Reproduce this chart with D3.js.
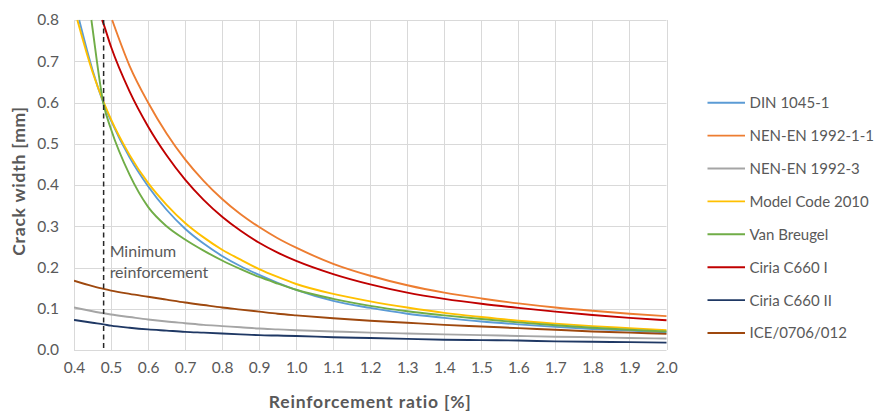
<!DOCTYPE html>
<html>
<head>
<meta charset="utf-8">
<script src="https://cdn.jsdelivr.net/npm/d3@7/dist/d3.min.js"></script>
<style>
  html, body { margin: 0; padding: 0; background: #fff; }
  svg { display: block; font-family: Lato, "Open Sans", sans-serif; }
</style>
</head>
<body>
<svg id="chart" width="877" height="413"></svg>
<script>
// Reinforcement ratio sample points [%]
const ratios = [0.4, 0.45, 0.48, 0.5, 0.55, 0.6, 0.65, 0.7, 0.75, 0.8, 0.85, 0.9, 0.95, 1.0, 1.1, 1.2, 1.3, 1.4, 1.5, 1.6, 1.7, 1.8, 1.9, 2.0];

// Crack width [mm] per code; null = above the plotted range
const din1045 =     [null, 0.679, 0.598, 0.556, 0.467, 0.397, 0.340, 0.294, 0.258, 0.228, 0.203, 0.182, 0.163, 0.146, 0.119, 0.102, 0.088, 0.078, 0.069, 0.062, 0.056, 0.051, 0.047, 0.043];
const nen1992_1_1 = [null, null, null, null, 0.689, 0.600, 0.525, 0.462, 0.410, 0.366, 0.329, 0.298, 0.271, 0.248, 0.209, 0.180, 0.157, 0.139, 0.125, 0.113, 0.103, 0.095, 0.088, 0.082];
const nen1992_3 =   [0.103, 0.094, 0.089, 0.086, 0.080, 0.074, 0.069, 0.065, 0.061, 0.058, 0.055, 0.052, 0.050, 0.048, 0.045, 0.042, 0.040, 0.038, 0.036, 0.034, 0.032, 0.031, 0.029, 0.028];
const modelCode =   [null, 0.674, 0.601, 0.559, 0.473, 0.405, 0.352, 0.308, 0.273, 0.243, 0.219, 0.196, 0.177, 0.160, 0.136, 0.118, 0.103, 0.090, 0.080, 0.071, 0.064, 0.058, 0.053, 0.048];
const vanBreugel =  [null, 0.780, 0.595, 0.535, 0.425, 0.347, 0.300, 0.268, 0.241, 0.217, 0.196, 0.177, 0.161, 0.146, 0.124, 0.107, 0.094, 0.084, 0.075, 0.067, 0.060, 0.054, 0.049, 0.045];
const ciriaI =      [null, null, 0.790, 0.735, 0.627, 0.542, 0.472, 0.413, 0.364, 0.323, 0.289, 0.260, 0.236, 0.216, 0.184, 0.159, 0.139, 0.124, 0.112, 0.102, 0.093, 0.085, 0.078, 0.072];
const ciriaII =     [0.073, 0.066, 0.062, 0.059, 0.054, 0.050, 0.047, 0.044, 0.042, 0.040, 0.038, 0.036, 0.035, 0.034, 0.031, 0.029, 0.027, 0.025, 0.024, 0.023, 0.021, 0.020, 0.019, 0.018];
const ice0706 =     [0.168, 0.155, 0.148, 0.144, 0.136, 0.129, 0.122, 0.115, 0.109, 0.103, 0.098, 0.093, 0.088, 0.084, 0.077, 0.071, 0.066, 0.061, 0.057, 0.053, 0.049, 0.045, 0.042, 0.039];

// Ratio at which a curve enters from the top of the range (crack width 0.8 mm)
const topEntry = [0.414, 0.503, null, 0.409, 0.447, 0.476, null, null];

const seriesNames = ["DIN 1045-1", "NEN-EN 1992-1-1", "NEN-EN 1992-3", "Model Code 2010", "Van Breugel", "Ciria C660 I", "Ciria C660 II", "ICE/0706/012"];
const seriesValues = [din1045, nen1992_1_1, nen1992_3, modelCode, vanBreugel, ciriaI, ciriaII, ice0706];
const seriesColors = ["#5B9BD5", "#ED7D31", "#A5A5A5", "#FFC000", "#70AD47", "#C00000", "#1F3864", "#9E480E"];

const xTicks = [0.4, 0.5, 0.6, 0.7, 0.8, 0.9, 1.0, 1.1, 1.2, 1.3, 1.4, 1.5, 1.6, 1.7, 1.8, 1.9, 2.0];
const yTicks = [0.0, 0.1, 0.2, 0.3, 0.4, 0.5, 0.6, 0.7, 0.8];
const minReinforcement = 0.48;
const yMax = 0.8;

const svg = d3.select("#chart");
const plot = { left: 74, right: 666.5, top: 20, bottom: 350 };
const x = d3.scaleLinear().domain([0.4, 2.0]).range([plot.left, plot.right]);
const y = d3.scaleLinear().domain([0, yMax]).range([plot.bottom, plot.top]);
const textColor = "#595959";
const fmt = d3.format(".1f");

// Gridlines
const grid = svg.append("g").attr("stroke", "#d9d9d9").attr("stroke-width", 1);
grid.selectAll("line.v").data(xTicks).join("line")
  .attr("x1", d => Math.round(x(d)) + 0.5).attr("x2", d => Math.round(x(d)) + 0.5)
  .attr("y1", plot.top).attr("y2", plot.bottom);
grid.selectAll("line.h").data(yTicks).join("line")
  .attr("y1", d => Math.round(y(d)) + 0.5).attr("y2", d => Math.round(y(d)) + 0.5)
  .attr("x1", plot.left).attr("x2", plot.right);

// Axes (labels only; gridlines carry the lines)
const xAxis = svg.append("g").attr("transform", `translate(0,${plot.bottom})`)
  .call(d3.axisBottom(x).tickValues(xTicks).tickFormat(fmt).tickSize(0).tickPadding(12));
const yAxis = svg.append("g").attr("transform", `translate(${plot.left},0)`)
  .call(d3.axisLeft(y).tickValues(yTicks).tickFormat(fmt).tickSize(0).tickPadding(15));
[xAxis, yAxis].forEach(a => {
  a.select(".domain").remove();
  a.selectAll("text").attr("fill", textColor).style("font-size", "15.5px").style("font-family", "Lato, sans-serif");
});

// Curves
const clipId = "plot-clip";
svg.append("clipPath").attr("id", clipId).append("rect")
  .attr("x", plot.left).attr("y", plot.top - 1)
  .attr("width", plot.right - plot.left + 2).attr("height", plot.bottom - plot.top + 2);

const line = d3.line().x(d => x(d[0])).y(d => y(d[1])).curve(d3.curveMonotoneX);
const curves = svg.append("g").attr("clip-path", `url(#${clipId})`);
seriesValues.forEach((vals, i) => {
  const pts = [];
  if (topEntry[i] !== null) pts.push([topEntry[i], yMax]);
  ratios.forEach((r, j) => {
    if (vals[j] !== null && (topEntry[i] === null || r > topEntry[i])) pts.push([r, vals[j]]);
  });
  curves.append("path").datum(pts)
    .attr("fill", "none").attr("stroke", seriesColors[i]).attr("stroke-width", 1.9)
    .attr("stroke-linejoin", "round").attr("d", line);
});

// Minimum reinforcement marker
svg.append("line")
  .attr("x1", x(minReinforcement)).attr("x2", x(minReinforcement))
  .attr("y1", plot.top).attr("y2", plot.bottom)
  .attr("stroke", "#262626").attr("stroke-width", 1.5).attr("stroke-dasharray", "5,3.5");
const note = svg.append("text").attr("fill", textColor).style("font-size", "16px")
  .attr("x", x(minReinforcement) + 6).attr("y", 257);
note.append("tspan").attr("x", x(minReinforcement) + 6).text("Minimum");
note.append("tspan").attr("x", x(minReinforcement) + 6).attr("dy", 21).text("reinforcement");

// Axis titles
svg.append("text").attr("x", (plot.left + plot.right) / 2).attr("y", 408)
  .attr("text-anchor", "middle").attr("fill", textColor)
  .style("font-size", "17.5px").style("font-weight", "bold").style("letter-spacing", "0.8px")
  .text("Reinforcement ratio [%]");
svg.append("text").attr("transform", `translate(25,181) rotate(-90)`)
  .attr("text-anchor", "middle").attr("fill", textColor)
  .style("font-size", "17.5px").style("font-weight", "bold").style("letter-spacing", "0.8px")
  .text("Crack width [mm]");

// Legend
const legend = svg.append("g");
seriesNames.forEach((name, i) => {
  const ly = 102.7 + i * 32.9;
  legend.append("line").attr("x1", 707.5).attr("x2", 745).attr("y1", ly).attr("y2", ly)
    .attr("stroke", seriesColors[i]).attr("stroke-width", 1.9);
  legend.append("text").attr("x", 749.5).attr("y", ly).attr("dy", "0.36em")
    .attr("fill", textColor).style("font-size", "15px").text(name);
});
</script>
</body>
</html>
